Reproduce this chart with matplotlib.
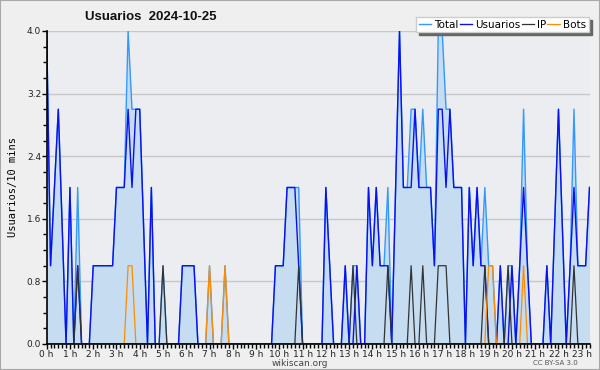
import numpy as np
import matplotlib
matplotlib.use('Agg')
import matplotlib.pyplot as plt
from matplotlib.patches import Rectangle

# datos cada 10 minutos, desde 0:00 hasta 23:20
usuarios = [4, 1, 2, 3, 1.5, 0, 2, 0, 1, 0, 0, 0,
            1, 1, 1, 1, 1, 1, 2, 2, 2, 3, 2, 3,
            3, 1.5, 0, 2, 0, 0, 0, 0, 0, 0, 0, 1,
            1, 1, 1, 0, 0, 0, 0, 0, 0, 0, 0, 0,
            0, 0, 0, 0, 0, 0, 0, 0, 0, 0, 0, 1,
            1, 1, 2, 2, 2, 1, 0, 0, 0, 0, 0, 0,
            2, 1, 0, 0, 0, 1, 0, 0, 1, 0, 0, 2,
            1, 2, 1, 1, 1, 0, 2, 4, 2, 2, 2, 3,
            2, 2, 2, 2, 1, 3, 3, 2, 3, 2, 2, 2,
            0, 2, 1, 2, 1, 1, 0, 0, 0, 1, 0, 0,
            1, 0, 1, 2, 1, 0, 0, 0, 0, 1, 0, 1.5,
            3, 1.5, 0, 1, 2, 1, 1, 1, 2]

ip = [0, 0, 0, 0, 0, 0, 0, 0, 1, 0, 0, 0,
      0, 0, 0, 0, 0, 0, 0, 0, 0, 0, 0, 0,
      0, 0, 0, 0, 0, 0, 1, 0, 0, 0, 0, 0,
      0, 0, 0, 0, 0, 0, 0, 0, 0, 0, 0, 0,
      0, 0, 0, 0, 0, 0, 0, 0, 0, 0, 0, 0,
      0, 0, 0, 0, 0, 1, 0, 0, 0, 0, 0, 0,
      0, 0, 0, 0, 0, 0, 0, 1, 0, 0, 0, 0,
      0, 0, 0, 0, 1, 0, 0, 0, 0, 0, 1, 0,
      0, 1, 0, 0, 0, 1, 1, 1, 0, 0, 0, 0,
      0, 0, 0, 0, 0, 1, 0, 0, 0, 0, 0, 1,
      0, 0, 0, 0, 0, 0, 0, 0, 0, 0, 0, 0,
      0, 0, 0, 0, 1, 0, 0, 0, 0]

bots = [0, 0, 0, 0, 0, 0, 0, 0, 0, 0, 0, 0,
        0, 0, 0, 0, 0, 0, 0, 0, 0, 1, 1, 0,
        0, 0, 0, 0, 0, 0, 0, 0, 0, 0, 0, 0,
        0, 0, 0, 0, 0, 0, 1, 0, 0, 0, 1, 0,
        0, 0, 0, 0, 0, 0, 0, 0, 0, 0, 0, 0,
        0, 0, 0, 0, 0, 0, 0, 0, 0, 0, 0, 0,
        0, 0, 0, 0, 0, 0, 0, 0, 0, 0, 0, 0,
        0, 0, 0, 0, 0, 0, 0, 0, 0, 0, 0, 0,
        0, 0, 0, 0, 0, 0, 0, 0, 0, 0, 0, 0,
        0, 0, 0, 0, 0, 0, 1, 1, 0, 0, 0, 0,
        0, 0, 0, 1, 0, 0, 0, 0, 0, 0, 0, 0,
        0, 0, 0, 0, 0, 0, 0, 0, 0]

total = [4, 1, 2, 3, 1.5, 0, 2, 0, 2, 0, 0, 0,
         1, 1, 1, 1, 1, 1, 2, 2, 2, 4, 3, 3,
         3, 1.5, 0, 2, 0, 0, 1, 0, 0, 0, 0, 1,
         1, 1, 1, 0, 0, 0, 1, 0, 0, 0, 1, 0,
         0, 0, 0, 0, 0, 0, 0, 0, 0, 0, 0, 1,
         1, 1, 2, 2, 2, 2, 0, 0, 0, 0, 0, 0,
         2, 1, 0, 0, 0, 1, 0, 1, 1, 0, 0, 2,
         1, 2, 1, 1, 2, 0, 2, 4, 2, 2, 3, 3,
         2, 3, 2, 2, 1, 4, 4, 3, 3, 2, 2, 2,
         0, 2, 1, 2, 1, 2, 1, 1, 0, 1, 0, 1,
         1, 0, 1, 3, 1, 0, 0, 0, 0, 1, 0, 1.5,
         3, 1.5, 0, 1, 3, 1, 1, 1, 2]

horas = list(range(24))
y_ticks = [0.0, 0.8, 1.6, 2.4, 3.2, 4.0]

x = np.arange(len(total))

fig = plt.figure(figsize=(6, 3.7), dpi=100, facecolor='#efefef')
fig.patches.append(Rectangle((0, 0), 1, 1, transform=fig.transFigure,
                             fill=False, edgecolor='#a8a8a8', lw=1.5))
ax = fig.add_axes([0.0778, 0.0703, 0.9047, 0.846])
ax.set_facecolor('#ecedf0')

ax.fill_between(x, total, color='#c6dcf0', lw=0)
ax.plot(x, total, color='#3399ff', lw=1.0, label='Total')
ax.plot(x, usuarios, color='#0a10f0', lw=1.0, label='Usuarios')
ax.plot(x, ip, color='#333333', lw=0.9, label='IP')
ax.plot(x, bots, color='#ff8c00', lw=0.9, label='Bots')

ax.set_xlim(0, len(total) - 1)
ax.set_ylim(0, 4.0)
ax.set_xticks([h * 6 for h in horas])
ax.set_xticklabels([f'{h} h' for h in horas])
ax.set_xticks(x, minor=True)
ax.set_yticks(y_ticks)
ax.set_yticklabels([f'{v:.1f}' for v in y_ticks])
ax.set_yticks(np.arange(0, 4.01, 0.2), minor=True)
ax.tick_params(axis='both', which='major', length=3.5, width=1, labelsize=6.5,
               color='black', labelcolor='#222222', pad=0.5)
ax.tick_params(axis='both', which='minor', length=3, width=1, color='black')
ax.grid(axis='y', color='#c8c8c8', lw=1)
ax.set_axisbelow(True)
for s in ['top', 'right']:
    ax.spines[s].set_visible(False)
for s in ['left', 'bottom']:
    ax.spines[s].set_linewidth(1.2)

ax.set_ylabel('Usuarios/10 mins', family='DejaVu Sans Mono', fontsize=7.5, labelpad=6)

fig.text(0.142, 0.954, 'Usuarios  2024-10-25', fontsize=9.5, fontweight='bold',
         family='Liberation Sans', ha='left', va='center', color='#111111')
fig.text(0.5, 0.018, 'wikiscan.org', fontsize=6.5, ha='center', va='center', color='#444444')
fig.text(0.925, 0.018, 'CC BY-SA 3.0', fontsize=5, ha='center', va='center', color='#555555')

leg = fig.legend(loc='upper right', bbox_to_anchor=(0.99, 0.968), ncol=4, fontsize=7.5,
                 handlelength=1.2, handletextpad=0.3, columnspacing=0.1,
                 borderpad=0.25, fancybox=False, framealpha=1,
                 edgecolor='#cccccc', shadow={'color': '#666666', 'alpha': 1})

fig.savefig('out.png', dpi=100, facecolor=fig.get_facecolor())
